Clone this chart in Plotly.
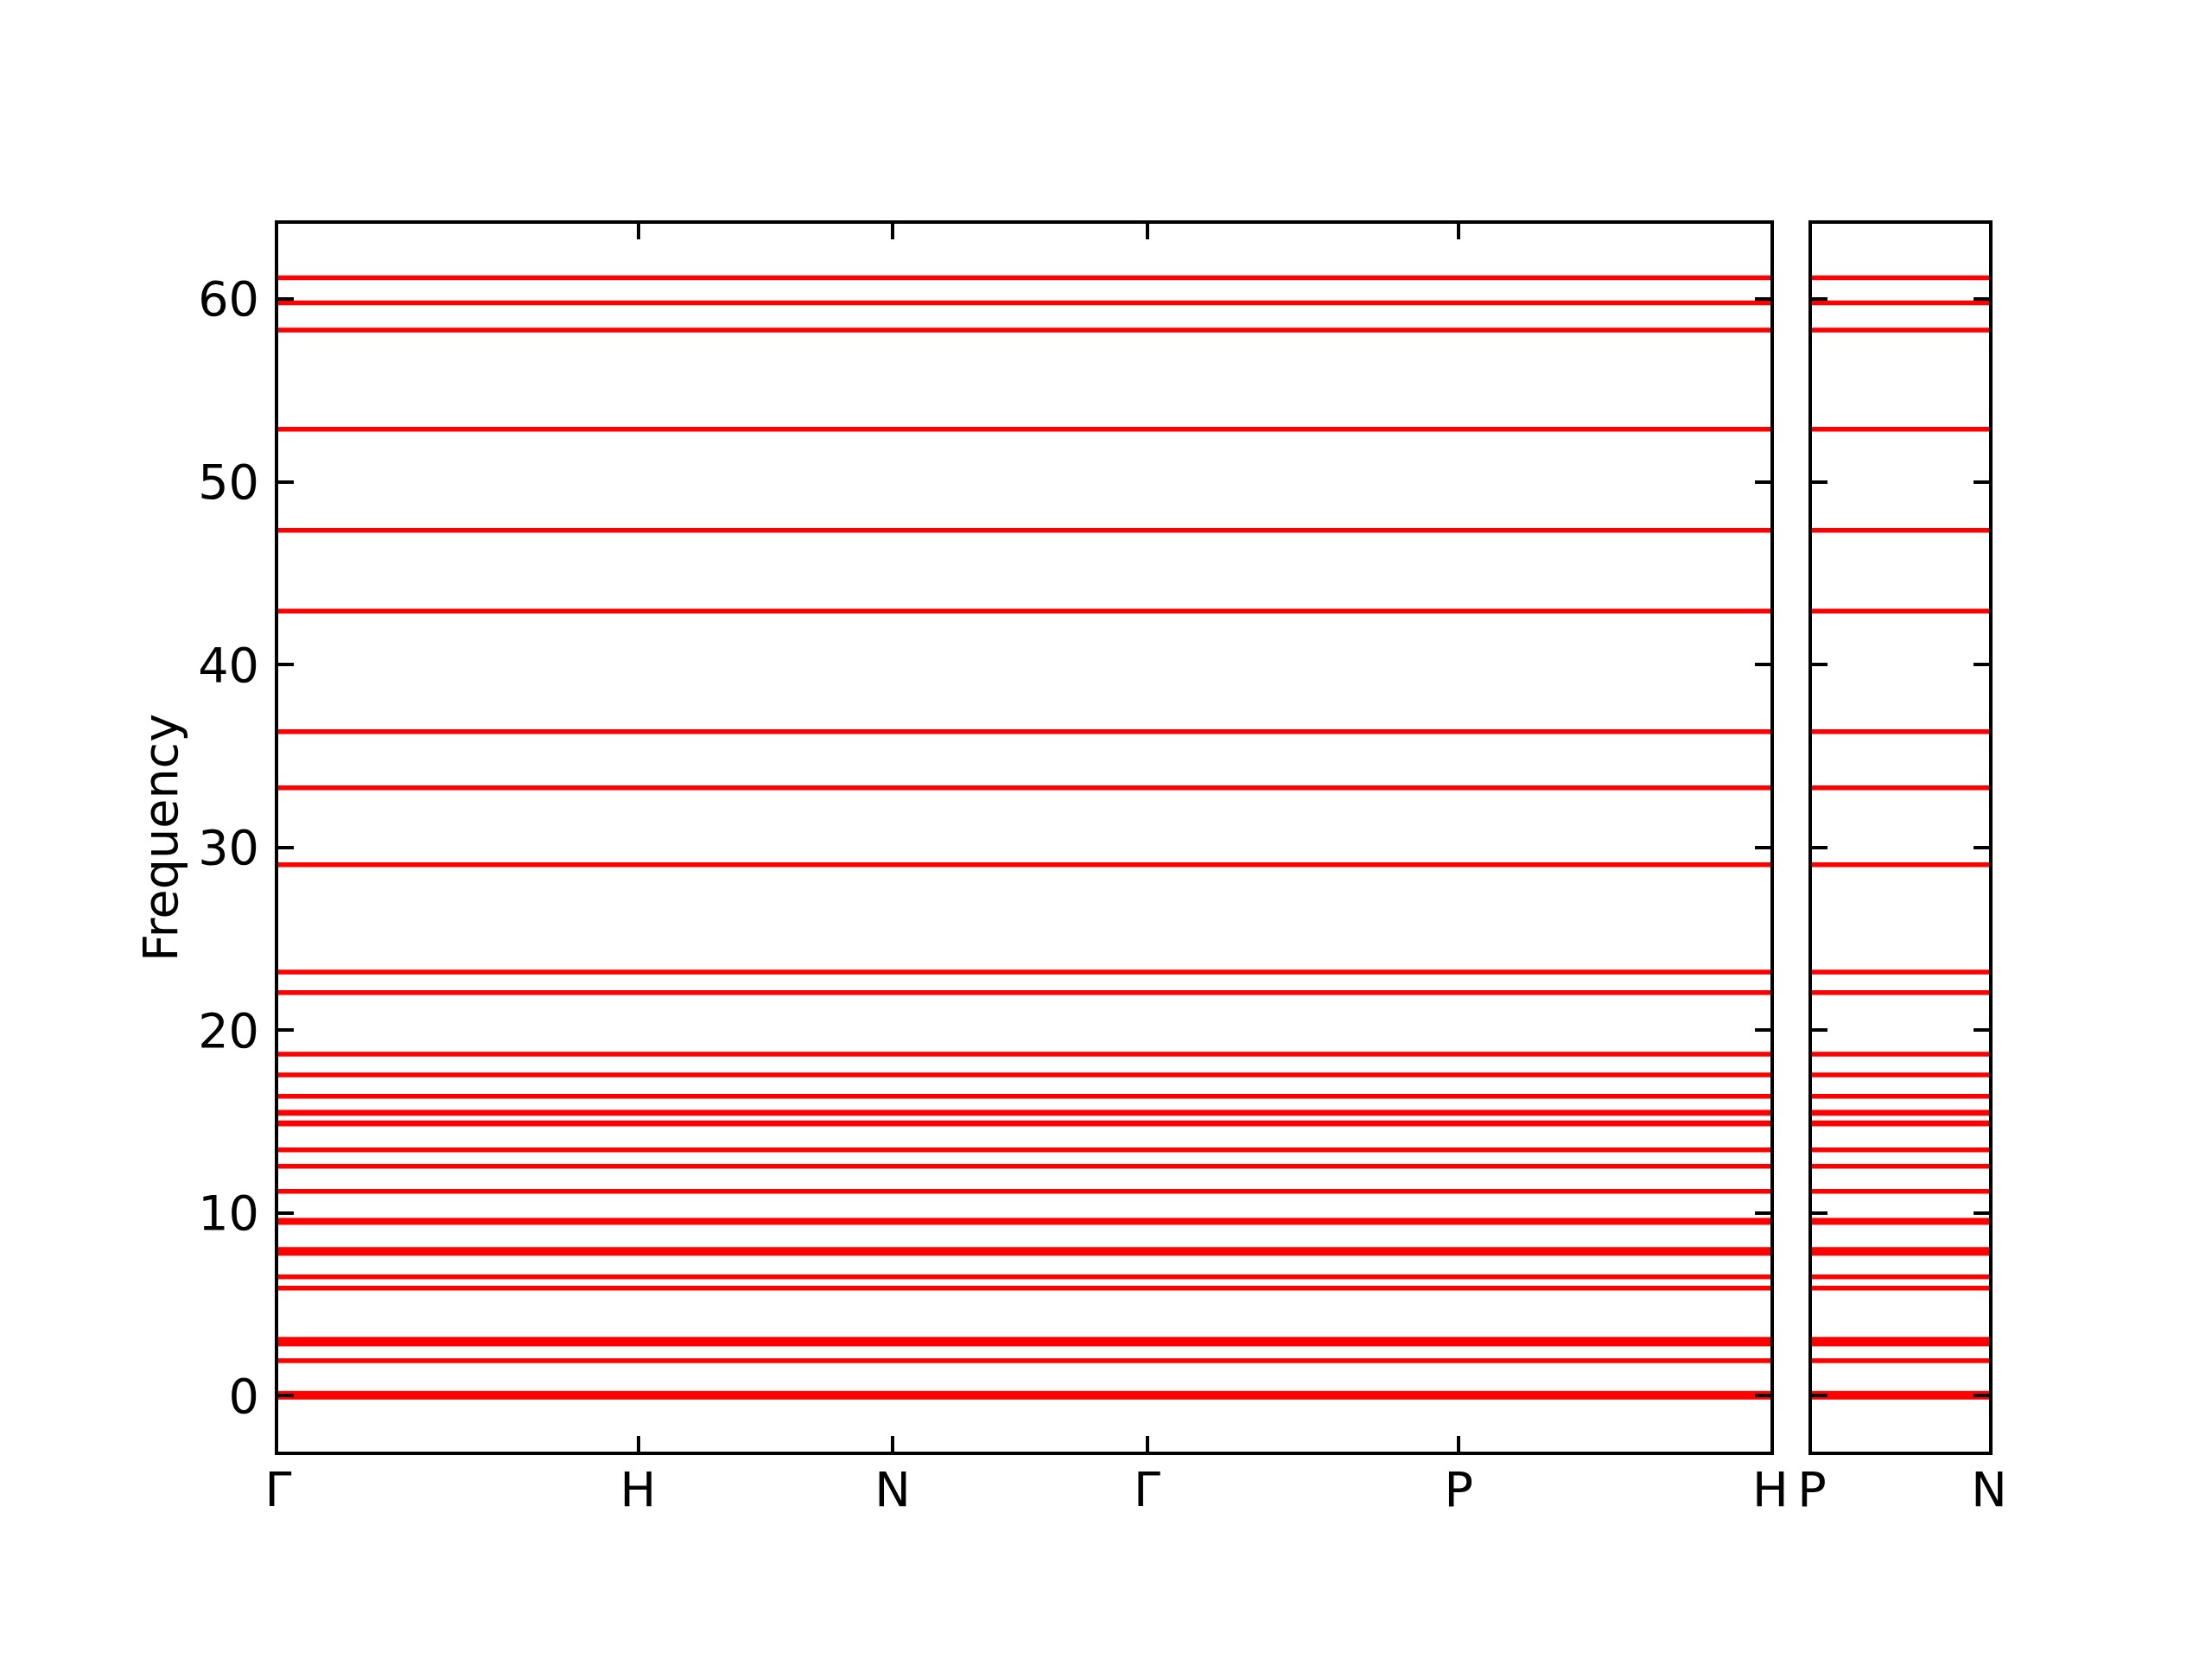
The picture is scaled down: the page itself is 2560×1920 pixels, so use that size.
import plotly.graph_objects as go
import numpy as np

# Phonon frequencies at each band (flat bands)
frequencies = [-0.08, 0.03, 0.13, 1.91, 2.82, 2.95, 3.08, 5.89, 6.50, 7.79, 7.89, 8.00,
               9.48, 9.60, 11.18, 12.55, 13.45, 14.87, 14.93, 15.45, 15.51, 16.38,
               17.55, 18.68, 22.05, 23.17, 29.05, 33.26, 36.33, 42.92, 47.34, 52.87,
               58.30, 59.78, 61.15]

# k-path segments
left_labels = ["Γ", "H", "N", "Γ", "P", "H"]
left_segments = [1.0, 0.7071, 0.7071, 0.8660, 0.8660]
right_labels = ["P", "N"]
right_segments = [0.5]

yticks = [0, 10, 20, 30, 40, 50, 60]
yrange = [-3.06, 64.11]

left_ticks = list(np.concatenate([[0.0], np.cumsum(left_segments)]))
right_ticks = list(np.concatenate([[0.0], np.cumsum(right_segments)]))


def band_xy(ticks):
    xs, ys = [], []
    for f in frequencies:
        xs += [ticks[0], ticks[-1], None]
        ys += [f, f, None]
    return xs, ys


fig = go.Figure()
x1, y1 = band_xy(left_ticks)
fig.add_trace(go.Scatter(x=x1, y=y1, mode="lines", line=dict(color="#ff0000", width=5.5),
                         xaxis="x", yaxis="y", showlegend=False, hoverinfo="skip"))
x2, y2 = band_xy(right_ticks)
fig.add_trace(go.Scatter(x=x2, y=y2, mode="lines", line=dict(color="#ff0000", width=5.5),
                         xaxis="x2", yaxis="y2", showlegend=False, hoverinfo="skip"))

font = dict(family="DejaVu Sans", size=55.6, color="black")
common_axis = dict(showline=True, linewidth=4, linecolor="black", mirror="ticks",
                   ticks="inside", ticklen=18, tickwidth=4, tickcolor="black",
                   showgrid=False, zeroline=False, tickfont=font, automargin=False)

W, H = 2560, 1920
OFF = 8   # page offset compensation
LW = 2    # axis lines are drawn outside the domain by half their width
xd_left = [(320 + LW - OFF) / W, (2051 - LW - OFF) / W]
xd_right = [(2095 + LW - OFF) / W, (2304 - LW - OFF) / W]
yd = [1 - (1682 - LW - OFF) / H, 1 - (257 + LW - OFF) / H]

fig.update_layout(
    template="none",
    width=W, height=H,
    margin=dict(l=0, r=0, t=0, b=0, pad=0),
    paper_bgcolor="white", plot_bgcolor="white",
    font=font,
    xaxis=dict(domain=xd_left, range=[left_ticks[0], left_ticks[-1]],
               tickvals=left_ticks, ticktext=left_labels, anchor="y",
               ticklabelstandoff=-8, **common_axis),
    yaxis=dict(domain=yd, range=yrange, tickvals=yticks, anchor="x",
               ticklabelstandoff=7,
               title=dict(text="Frequency", font=font, standoff=7), **common_axis),
    xaxis2=dict(domain=xd_right, range=[right_ticks[0], right_ticks[-1]],
                tickvals=right_ticks, ticktext=right_labels, anchor="y2",
                ticklabelstandoff=-8, **common_axis),
    yaxis2=dict(domain=yd, range=yrange, tickvals=yticks,
                anchor="x2", showticklabels=False, **common_axis),
)

fig.write_html("out.html")
